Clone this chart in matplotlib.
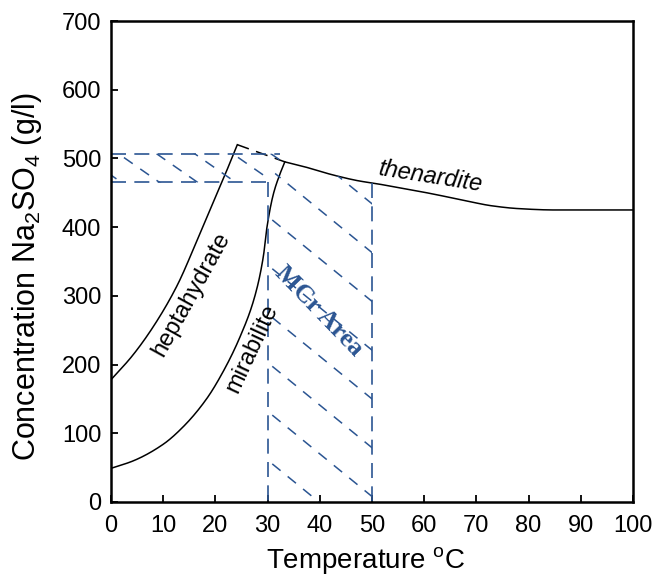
import numpy as np
import matplotlib
matplotlib.use("Agg")
import matplotlib.pyplot as plt
from matplotlib.patches import Polygon

plt.rcParams['font.family'] = ['Liberation Sans', 'DejaVu Sans']
plt.rcParams['mathtext.default'] = 'regular'

# ---- data ----
hept_T = [0, 4, 8, 12.6, 17, 21.5, 24.2]
hept_c = [178, 212, 254, 314, 390, 470, 520]

mira_T = [0, 4.3, 10, 13.9, 18.3, 21.5, 24.7, 27.5, 29.2, 29.8, 31.1, 32.4, 33.3]
mira_c = [49, 60, 84, 110, 150, 190, 240, 298, 358, 396, 448, 478, 495]

then_T = [33.3, 37, 42.5, 47.7, 50.3, 54, 60.5, 67, 73, 78, 85, 92, 100]
then_c = [495, 488, 476, 467, 464, 459, 450, 440, 431, 427, 425, 425, 425]

meta_T = [24.2, 33.3]          # metastable extension (dashed)
meta_c = [520, 495]

band_c = [465, 507]            # concentration band (g/l)
band_T_end = [30, 32.4]
mcr_T = [30, 50]               # MCr temperature range

xticks = list(range(0, 101, 10))
yticks = list(range(0, 701, 100))

blue = '#2B5592'


def pchip(x, y, n=300):
    """Monotone cubic (Fritsch-Carlson) smoothing through the read points."""
    x = np.asarray(x, float)
    y = np.asarray(y, float)
    h = np.diff(x)
    d = np.diff(y) / h
    m = np.zeros_like(y)
    m[0], m[-1] = d[0], d[-1]
    for i in range(1, len(x) - 1):
        if d[i - 1] * d[i] <= 0:
            m[i] = 0
        else:
            w1 = 2 * h[i] + h[i - 1]
            w2 = h[i] + 2 * h[i - 1]
            m[i] = (w1 + w2) / (w1 / d[i - 1] + w2 / d[i])
    xs = np.linspace(x[0], x[-1], n)
    idx = np.clip(np.searchsorted(x, xs) - 1, 0, len(x) - 2)
    t = (xs - x[idx]) / h[idx]
    h00 = 2 * t**3 - 3 * t**2 + 1
    h10 = t**3 - 2 * t**2 + t
    h01 = -2 * t**3 + 3 * t**2
    h11 = t**3 - t**2
    ys = h00 * y[idx] + h10 * h[idx] * m[idx] + h01 * y[idx + 1] + h11 * h[idx] * m[idx + 1]
    return xs, ys


fig = plt.figure(figsize=(6.57, 5.8), dpi=100)
ax = fig.add_axes([111/657, 1-502/580, (633-111)/657, (502-21)/580])
ax.set_xlim(0, 100)
ax.set_ylim(0, 700)

# curves
for T, c in [(hept_T, hept_c), (mira_T, mira_c), (then_T, then_c)]:
    xs, ys = pchip(T, c)
    ax.plot(xs, ys, color='black', lw=1.1)
ax.plot(meta_T, meta_c, color='black', lw=1.1, ls=(0, (8, 5)))

# blue dashed frame lines
ds = (0, (9, 5))
ax.plot([0, band_T_end[1]], [band_c[1], band_c[1]], color=blue, lw=1.2, ls=ds)
ax.plot([0, band_T_end[0]], [band_c[0], band_c[0]], color=blue, lw=1.2, ls=ds)
t50_top = np.interp(mcr_T[1], then_T, then_c)
ax.plot([mcr_T[0], mcr_T[0]], [band_c[0], 0], color=blue, lw=1.2, ls=ds)
ax.plot([mcr_T[1], mcr_T[1]], [t50_top, 0], color=blue, lw=1.2, ls=ds)

# hatch regions
sel = [(t, c) for t, c in zip(then_T, then_c) if t <= mcr_T[1]]
mcr_poly = [(mcr_T[0], 0), (mcr_T[1], 0), (mcr_T[1], t50_top)] + \
           [(t, c) for t, c in reversed(sel)] + [(mcr_T[0], band_c[0])]
band_poly = [(0, band_c[0]), (band_T_end[0], band_c[0]), (33.3, 495),
             (band_T_end[1], band_c[1]), (0, band_c[1])]
mcr_patch = Polygon(mcr_poly, closed=True, transform=ax.transData, fill=False, lw=0)
band_patch = Polygon(band_poly, closed=True, transform=ax.transData, fill=False, lw=0)
ax.add_patch(mcr_patch)
ax.add_patch(band_patch)

hs = (0, (7, 6))
# MCr hatch: slope ~ -6.2 g/l per degC, spacing ~71 g/l
for k in range(-2, 12):
    c0 = 61 + 71 * k
    T = np.array([25, 55])
    ln, = ax.plot(T, c0 - 6.2 * (T - 30), color=blue, lw=1.1, ls=hs)
    ln.set_clip_path(mcr_patch)
# band hatch: slope ~ -5.3 g/l per degC, spacing ~7.3 degC
for k in range(-2, 6):
    t0 = 1.4 + 7.3 * k
    T = np.array([-10, 45])
    ln, = ax.plot(T, band_c[1] - 5.3 * (T - t0), color=blue, lw=1.1, ls=hs)
    ln.set_clip_path(band_patch)

# labels on curves
ax.text(15.4, 303, 'heptahydrate', rotation=61, ha='center', va='center', fontsize=17)
ax.text(27.0, 224, 'mirabilite', rotation=65, ha='center', va='center', fontsize=17)
ax.text(61.3, 473, 'thenardite', rotation=-9, ha='center', va='center', fontsize=17,
        style='italic')
ax.text(39.8, 278, 'MCr Area', rotation=-46, ha='center', va='center', fontsize=19,
        color=blue, fontweight='bold', family='Liberation Serif')

# axes styling
for s in ax.spines.values():
    s.set_linewidth(1.8)
ax.set_xticks(xticks)
ax.set_yticks(yticks)
ax.tick_params(axis='both', direction='in', length=5, width=1.3, labelsize=17)
ax.tick_params(axis='x', pad=9)
ax.tick_params(axis='y', pad=7)

fig.text(366/657, 1-560/580, r'Temperature $^{o}$C', ha='center', va='center', fontsize=20)
fig.text(27/657, 1-277/580, r'Concentration Na$_{2}$SO$_{4}$ (g/l)', rotation=90,
         ha='center', va='center', fontsize=22)

fig.savefig('out.png', dpi=100)
